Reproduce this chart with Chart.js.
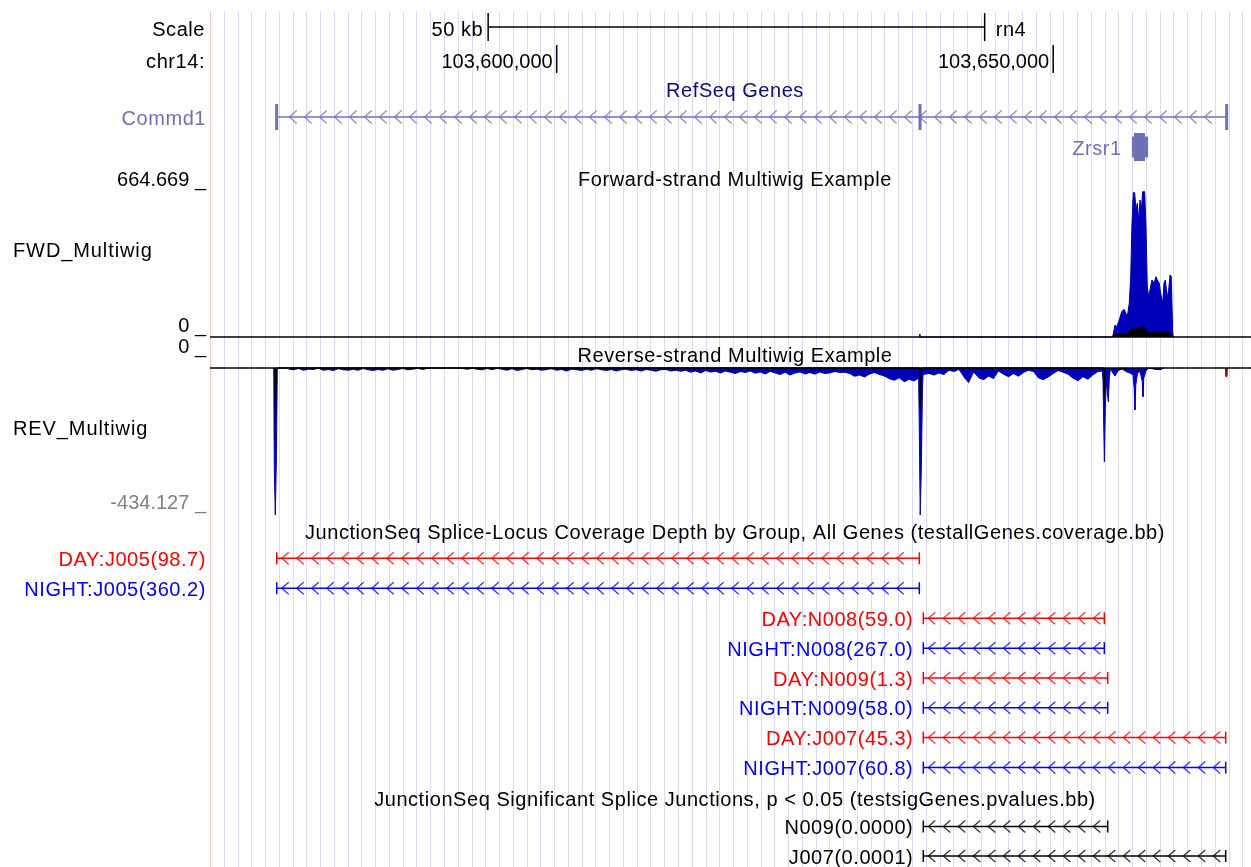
<!DOCTYPE html>
<html>
<head>
<meta charset="utf-8">
<script src="https://cdn.jsdelivr.net/npm/chart.js@4.4.1/dist/chart.umd.min.js"></script>
<style>
  html, body { margin: 0; padding: 0; background: #fff; }
  canvas { display: block; }
</style>
</head>
<body>
<canvas id="browser" width="1251" height="867"></canvas>
<script>
// chr14 window on rn4
const viewStart = 103565090;
const viewEnd = 103669920;
const guideStart = 103566530;
const guideStep = 1386;

const scaleBar = [103593100, 103643100];
const scaleBarLabels = ["50 kb", "rn4"];
const rulerTicks = [103600000, 103650000];
const rulerLabels = ["103,600,000", "103,650,000"];

const geneNames = ["Commd1", "Zrsr1"];
const commd1Span = [103571800, 103667470];
const commd1Exons = [103571800, 103636590, 103667470];
const zrsr1Span = [103657905, 103659577];
const zrsr1Cds = [103658137, 103659245];

const fwdScaleLabels = ["664.669 _", "0 _"];
const revScaleLabels = ["0 _", "-434.127 _"];
const fwdMax = 664.669;
const revMin = -434.127;

// forward strand, blue sample
const fwdBlueX = [103636490, 103636560, 103636650, 103655992, 103656224, 103656395, 103656657, 103656898,
  103657130, 103657331, 103657462, 103657664, 103657805, 103657936, 103658066, 103658207, 103658338,
  103658469, 103658610, 103658741, 103658872, 103659013, 103659214, 103659345, 103659476, 103659617,
  103659748, 103659950, 103660151, 103660352, 103660483, 103660685, 103660826, 103661027, 103661158,
  103661289, 103661490, 103661631, 103661762, 103661893, 103662034, 103662094];
const fwdBlueY = [0, 13, 0, 0, 53.5, 46, 75.8, 112.9,
  123.6, 105.7, 90.6, 151.7, 269, 507.2, 643.7, 643.7, 566.5,
  596.4, 521.9, 611.2, 566.5, 648.2, 648.2, 492, 224.4, 179.8,
  209.7, 254.3, 239.6, 269, 254.3, 239.6, 194.9, 150.3, 239.6,
  254.3, 179.8, 209.7, 276.6, 269, 17.8, 0];
// forward strand, black sample
const fwdBlackX = [103655992, 103656052, 103656727, 103657432, 103657734, 103657986, 103658238, 103658439,
  103658741, 103659094, 103659345, 103659748, 103660252, 103660755, 103661259, 103661762, 103662094];
const fwdBlackY = [0, 9, 13, 11, 31, 40, 31, 45, 36, 49, 22, 18, 22, 18, 22, 18, 0];

// reverse strand low coverage, 500 bp bins from 103,573,000
const revNoiseStart = 103573000;
const revNoiseStep = 500;
const revNoise = [-5, -7, -3, -8, -5, -6, -2, -8, -6, -9, -4, -7, -8, -5, -8, -3, -7, -9, -6, -8,
  -4, -8, -6, -3, -7, -5, -2, -6, -2, -1, 0, -3, 0, -1, 0, -3, -5, -2, -5, -7,
  -3, -7, -2, -5, -8, -4, -9, -6, -3, -7, -5, -8, -6, -4, -8, -6, -10, -5, -7, -9,
  -5, -8, -4, -7, -9, -6, -10, -7, -5, -9, -7, -10, -6, -8, -11, -7, -6, -10, -8, -11,
  -8, -14, -10, -16, -9, -13, -11, -16, -10, -14, -18, -12, -15, -10, -17, -13, -19, -11, -16, -21,
  -14, -22, -16, -13, -19, -15, -20, -13, -18, -16, -12, -15, -14, -18, -26, -22, -28, -19, -15, -21,
  -25, -33, -38, -30, -42, -35, -40, -30, -20, -18, -22, -16, -21, -8, -12, -6, -28, -45, -14, -30,
  -36, -25, -33, -10, -20, -27, -18, -26, -15, -8, -12, -30, -36, -28, -18, -9, -14, -20, -32, -39,
  -27, -35, -22, -12, -10];
// reverse strand peaks, blue sample
const revPeakX = [103571505, 103571565, 103571666, 103571787, 103571867, 103636436, 103636506, 103636607,
  103636718, 103636839, 103636919, 103654965, 103655015, 103655096, 103655156, 103655247, 103655347,
  103655478, 103655559, 103655650, 103655770, 103655921, 103656223, 103656525, 103656928, 103657432,
  103657734, 103658036, 103658157, 103658237, 103658318, 103658489, 103658741, 103658972, 103659043,
  103659123, 103659345, 103659647, 103660251, 103660755, 103661157];
const revPeakY = [0, -300, -434, -250, 0, 0, -150, -434,
  -300, -60, 0, 0, -30, -180, -277, -120, -40,
  -80, -100, -30, 0, -10, -24, -8, -3, -12,
  -15, -20, -60, -124, -50, -15, -10, -40, -85,
  -30, -8, 0, -4, -5, 0];
// reverse strand, black sample
const revBlackX = [103571615, 103571666, 103571736, 103571787, 103636537, 103636607, 103636688, 103636748,
  103655076, 103655136, 103655196, 103655257];
const revBlackY = [0, -212, -212, 0, 0, -114, -114, 0, 0, -85, -85, 0];
// small mark at the right end
const revTailX = [103667351, 103667401, 103667502, 103667552];
const revTailY = [0, -25, -25, 0];

const juncLabels = ["DAY:J005(98.7)", "NIGHT:J005(360.2)", "DAY:N008(59.0)", "NIGHT:N008(267.0)",
  "DAY:N009(1.3)", "NIGHT:N009(58.0)", "DAY:J007(45.3)", "NIGHT:J007(60.8)"];
const juncStarts = [103571810, 103571810, 103636920, 103636920, 103636920, 103636920, 103636920, 103636920];
const juncEnds = [103636520, 103636520, 103655150, 103655150, 103655490, 103655490, 103667370, 103667370];
const sigLabels = ["N009(0.0000)", "J007(0.0001)"];
const sigStarts = [103636920, 103636920];
const sigEnds = [103655490, 103667370];

const trackTitles = ["RefSeq Genes", "Forward-strand Multiwig Example", "Reverse-strand Multiwig Example",
  "JunctionSeq Splice-Locus Coverage Depth by Group, All Genes (testallGenes.coverage.bb)",
  "JunctionSeq Significant Splice Junctions, p < 0.05 (testsigGenes.pvalues.bb)"];

// ---- layout and styles ----
const H = 867;
const AREA_LEFT = 210;
const AREA_TOP = 11;
const GUTTER_X = 205;
const TITLE_X = 735;
const FONT = '20px "Liberation Sans", Arial, Helvetica, sans-serif';

const GENE_COLOR = "#7070b6";
const WIG_BLUE = "#0000b8";
const DAY_COLOR = "#ff0000";
const NIGHT_COLOR = "#0000ff";

const rowY = {
  scaleBar: 27, ruler: 59, commd1: 117,
  zrsr1Top: 133, zrsr1Bottom: 161, utrTop: 136.5, utrBottom: 157.5,
  fwdTop: 188, fwdZero: 337, revZero: 368, revBottom: 515
};
const juncRowY = [558.3, 588.2, 618.3, 648.2, 678, 707.8, 737.6, 767.6];
const sigRowY = [826.5, 856];

// value range of a hidden axis so that zero and one value land on given pixel rows
function wigRange(zeroPx, refPx, refVal) {
  const k = Math.abs(refPx - zeroPx) / Math.abs(refVal);
  return { min: -(H - zeroPx) / k, max: (zeroPx - AREA_TOP) / k };
}
const fwdAxis = wigRange(rowY.fwdZero, rowY.fwdTop, fwdMax);
const revAxis = wigRange(rowY.revZero, rowY.revBottom, revMin);

const pts = (xs, ys) => xs.map((x, i) => ({ x, y: ys[i] }));

function wig(axis, data, color, order, width = 1) {
  return {
    yAxisID: axis, data, order,
    borderColor: color, backgroundColor: color, borderWidth: width,
    fill: "origin", pointRadius: 0, tension: 0
  };
}

function feature(span, y, color, chevron, bar) {
  return {
    yAxisID: "yRows", order: 3,
    data: [{ x: span[0], y }, { x: span[1], y }],
    borderColor: color, borderWidth: 1.5,
    pointStyle: "line", pointRotation: 90, pointRadius: bar,
    pointBorderColor: color, pointBorderWidth: 1.5,
    chevron
  };
}

function block(span, top, bottom, color) {
  return {
    yAxisID: "yRows", order: 3,
    data: [{ x: span[0], y: bottom }, { x: span[1], y: bottom }],
    borderWidth: 0, backgroundColor: color, fill: { value: top }, pointRadius: 0
  };
}

const geneChevron = { offset: 13, gap: 15, w: 7, h: 6.5 };
const juncChevron = { offset: 5, gap: 15, w: 7, h: 6 };

const datasets = [
  // baselines of the two wiggle tracks
  { yAxisID: "yRows", order: 0, data: [{ x: viewStart, y: rowY.fwdZero }, { x: viewEnd, y: rowY.fwdZero }],
    borderColor: "#000", borderWidth: 1.5, pointRadius: 0 },
  { yAxisID: "yRows", order: 0, data: [{ x: viewStart, y: rowY.revZero }, { x: viewEnd, y: rowY.revZero }],
    borderColor: "#000", borderWidth: 1.5, pointRadius: 0 },
  // scale bar and ruler
  { yAxisID: "yRows", order: 3, data: scaleBar.map(x => ({ x, y: rowY.scaleBar })),
    borderColor: "#000", borderWidth: 1.3, pointStyle: "line", pointRotation: 90, pointRadius: 14,
    pointBorderWidth: 1.5 },
  { yAxisID: "yRows", order: 3, data: rulerTicks.map(x => ({ x, y: rowY.ruler })), showLine: false,
    borderColor: "#000", pointStyle: "line", pointRotation: 90, pointRadius: 14, pointBorderWidth: 1.5 },
  // RefSeq genes
  feature(commd1Span, rowY.commd1, GENE_COLOR, geneChevron, 0),
  { yAxisID: "yRows", order: 3, data: commd1Exons.map(x => ({ x, y: rowY.commd1 })), showLine: false,
    borderColor: GENE_COLOR, pointStyle: "line", pointRotation: 90, pointRadius: 13, pointBorderWidth: 3 },
  block(zrsr1Span, rowY.utrTop, rowY.utrBottom, GENE_COLOR),
  block(zrsr1Cds, rowY.zrsr1Top, rowY.zrsr1Bottom, GENE_COLOR),
  // multiwig tracks
  wig("yFwd", pts(fwdBlueX, fwdBlueY), WIG_BLUE, 2),
  wig("yFwd", pts(fwdBlackX, fwdBlackY), "#000", 1),
  wig("yRev", revNoise.map((v, i) => ({ x: revNoiseStart + i * revNoiseStep, y: v })), WIG_BLUE, 2, 0),
  wig("yRev", pts(revPeakX, revPeakY), WIG_BLUE, 2),
  wig("yRev", pts(revBlackX, revBlackY), "#000", 1),
  wig("yRev", pts(revTailX, revTailY), "#9a1010", 1)
];

const groupColor = label => (label.startsWith("DAY") ? DAY_COLOR : NIGHT_COLOR);
juncLabels.forEach((label, i) => {
  datasets.push(feature([juncStarts[i], juncEnds[i]], juncRowY[i], groupColor(label), juncChevron, 6));
});
sigLabels.forEach((label, i) => {
  datasets.push(feature([sigStarts[i], sigEnds[i]], sigRowY[i], "#000", juncChevron, 6));
});

// text: px = fixed pixel, bp = anchored to a genome position, feat = label left of a feature
const texts = [
  { text: "Scale", px: GUTTER_X, y: 36, align: "right" },
  { text: "chr14:", px: GUTTER_X, y: 68, align: "right" },
  { text: scaleBarLabels[0], bp: scaleBar[0], dx: -5, y: 36, align: "right" },
  { text: scaleBarLabels[1], bp: scaleBar[1], dx: 11, y: 36, align: "left" },
  { text: rulerLabels[0], bp: rulerTicks[0], dx: -4, y: 68, align: "right", tight: true },
  { text: rulerLabels[1], bp: rulerTicks[1], dx: -4, y: 68, align: "right", tight: true },
  { text: trackTitles[0], px: TITLE_X, y: 97, align: "center", color: "#0c0c78" },
  { text: geneNames[0], feat: commd1Span[0], y: rowY.commd1 + 7.8, color: GENE_COLOR },
  { text: geneNames[1], feat: zrsr1Span[0], y: 155, color: GENE_COLOR },
  { text: fwdScaleLabels[0], px: GUTTER_X + 1, y: 185.5, align: "right", tight: true },
  { text: trackTitles[1], px: TITLE_X, y: 186, align: "center" },
  { text: "FWD_Multiwig", px: 13, y: 257, align: "left", wide: true },
  { text: fwdScaleLabels[1], px: GUTTER_X + 1, y: 331.7, align: "right", tight: true },
  { text: revScaleLabels[0], px: GUTTER_X + 1, y: 353.3, align: "right", tight: true },
  { text: trackTitles[2], px: TITLE_X, y: 362, align: "center" },
  { text: "REV_Multiwig", px: 13, y: 435, align: "left", wide: true },
  { text: revScaleLabels[1], px: GUTTER_X + 1, y: 509.3, align: "right", color: "#808080", tight: true },
  { text: trackTitles[3], px: TITLE_X, y: 539, align: "center" },
  { text: trackTitles[4], px: TITLE_X, y: 806, align: "center" }
];
juncLabels.forEach((label, i) => {
  texts.push({ text: label, feat: juncStarts[i], y: juncRowY[i] + 7.5, color: groupColor(label) });
});
sigLabels.forEach((label, i) => {
  texts.push({ text: label, feat: sigStarts[i], y: sigRowY[i] + 7.5, color: "#000" });
});

const chevronPlugin = {
  id: "chevrons",
  afterDatasetsDraw(chart) {
    const { ctx, chartArea: a } = chart;
    ctx.save();
    ctx.beginPath();
    ctx.rect(a.left, a.top, a.right - a.left, a.bottom - a.top);
    ctx.clip();
    chart.data.datasets.forEach((ds, i) => {
      if (!ds.chevron) return;
      const el = chart.getDatasetMeta(i).data;
      const x0 = el[0].x, x1 = el[el.length - 1].x, y = el[0].y;
      const c = ds.chevron;
      ctx.strokeStyle = ds.borderColor;
      ctx.globalAlpha = 0.8;
      ctx.lineWidth = 1.3;
      ctx.beginPath();
      for (let x = x0 + c.offset; x + c.w < x1 - 1; x += c.gap) {
        ctx.moveTo(x + c.w, y - c.h);
        ctx.lineTo(x, y);
        ctx.lineTo(x + c.w, y + c.h);
      }
      ctx.stroke();
    });
    ctx.restore();
  }
};

const textPlugin = {
  id: "trackText",
  afterDraw(chart) {
    const { ctx, chartArea, scales } = chart;
    ctx.save();
    ctx.font = FONT;
    ctx.textBaseline = "alphabetic";
    texts.forEach(t => {
      ctx.letterSpacing = t.tight ? "0px" : (t.wide ? "0.9px" : "0.55px");
      let x = t.px;
      if (t.bp !== undefined) x = scales.x.getPixelForValue(t.bp) + t.dx;
      if (t.feat !== undefined) {
        x = scales.x.getPixelForValue(t.feat) - 10;
        if (x - ctx.measureText(t.text).width < chartArea.left) x = GUTTER_X + 1;
      }
      ctx.fillStyle = t.color || "#000";
      ctx.textAlign = t.align || "right";
      ctx.fillText(t.text, x, t.y);
    });
    ctx.restore();
  }
};

new Chart(document.getElementById("browser"), {
  type: "line",
  data: { datasets },
  options: {
    responsive: false,
    animation: false,
    events: [],
    layout: { autoPadding: false, padding: { left: AREA_LEFT, top: AREA_TOP, right: 0, bottom: 0 } },
    plugins: { legend: { display: false }, tooltip: { enabled: false } },
    scales: {
      x: {
        type: "linear", axis: "x", min: viewStart, max: viewEnd,
        ticks: { display: false },
        border: { display: false },
        grid: {
          drawTicks: false,
          lineWidth: 1,
          color: c => (c.index === 0 ? "#ffc4c4" : "#dadafc")
        },
        afterBuildTicks: scale => {
          const ticks = [{ value: viewStart }];
          for (let v = guideStart; v < viewEnd; v += guideStep) ticks.push({ value: v });
          scale.ticks = ticks;
        }
      },
      yRows: { type: "linear", axis: "y", display: false, reverse: true, min: AREA_TOP, max: H },
      yFwd: { type: "linear", axis: "y", display: false, min: fwdAxis.min, max: fwdAxis.max },
      yRev: { type: "linear", axis: "y", display: false, min: revAxis.min, max: revAxis.max }
    }
  },
  plugins: [chevronPlugin, textPlugin]
});
</script>
</body>
</html>
